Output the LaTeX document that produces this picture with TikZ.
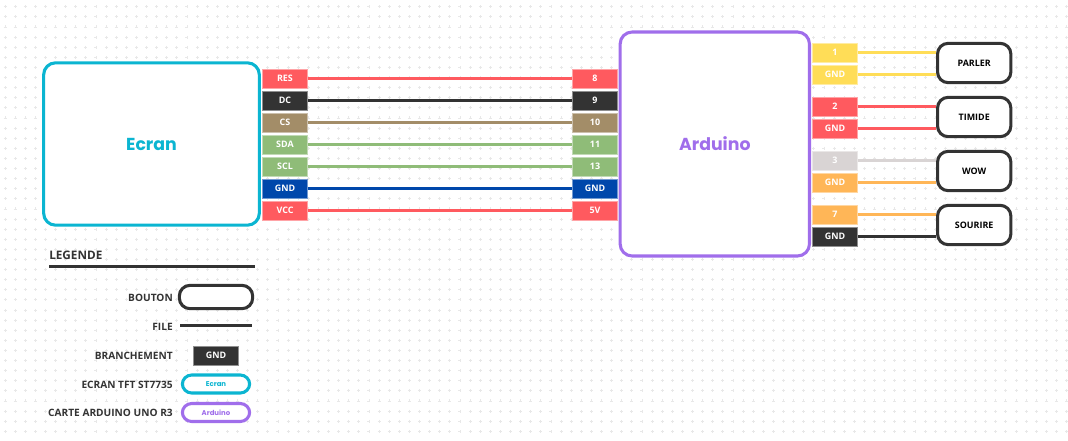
\documentclass[tikz,border=0pt]{standalone}
\usepackage{fontspec}
\setmainfont{Open Sans}
\newfontfamily\titlefont{Poppins}

\definecolor{cRed}{HTML}{FF5A5F}
\definecolor{cDark}{HTML}{333333}
\definecolor{cBrown}{HTML}{A38D68}
\definecolor{cGreen}{HTML}{8FBC78}
\definecolor{cBlue}{HTML}{0047AB}
\definecolor{cYellow}{HTML}{FFDD57}
\definecolor{cGrey}{HTML}{D9D4D4}
\definecolor{cOrange}{HTML}{FFB657}
\definecolor{cTeal}{HTML}{0BB5D1}
\definecolor{cPurple}{HTML}{A06EEB}

\tikzset{
    pinbox/.style = {fill=#1, draw=#1!55!white, line width=0.4pt, minimum width=34pt, minimum height=14pt,
                     inner sep=0pt, text=white, font=\bfseries\fontsize{6.7}{7}\selectfont},
    wire/.style = {draw=#1, line width=2pt},
    board/.style = {draw=#1, fill=white, line width=2.3pt, rounded corners=9pt, inner sep=0pt,
                    text=#1, font=\titlefont\bfseries\fontsize{13}{15}\selectfont},
    button/.style = {draw=cDark, fill=white, line width=2.3pt, rounded corners=8pt, inner sep=0pt,
                     minimum width=55pt, minimum height=29.5pt, text=black, font=\bfseries\fontsize{6.7}{7}\selectfont},
    pill/.style = {draw=#1, fill=white, line width=2.3pt, rounded corners=7pt, inner sep=0pt,
                   minimum width=50.5pt, minimum height=13.5pt, text=#1, font=\titlefont\bfseries\fontsize{5.2}{6}\selectfont},
    legendtext/.style = {anchor=east, inner sep=0pt, text=cDark, font=\bfseries\fontsize{7.6}{8}\selectfont}
}

\begin{document}
\begin{tikzpicture}[x=0.75pt, y=-0.75pt]
    \useasboundingbox (0,0) rectangle (1068,440);

    % dotted sheet
    \foreach \i in {0,...,105}
        \foreach \j in {0,...,42}
            \draw [black!9, line width=0.6pt] (3.5+10.11*\i,6.7+10.11*\j) -- +(3,0) (5+10.11*\i,5.2+10.11*\j) -- +(0,3);

    % boards
    \node [board=cTeal, minimum width=161.8pt, minimum height=121.8pt] (ecran) at (151.5,144) {Ecran};
    \node [board=cPurple, minimum width=142pt, minimum height=168pt] (arduino) at (714.8,144) {Arduino};

    % pins of the screen and of the board
    \foreach \nameA/\nameB/\y/\col/\txtA/\txtB in {res/p8/78.5/cRed/RES/8, dc/p9/100.5/cDark/DC/9, cs/p10/122.5/cBrown/CS/10,
                                                   sda/p11/144.5/cGreen/SDA/11, scl/p13/166.5/cGreen/SCL/13,
                                                   gnd/pgnd/188.5/cBlue/GND/GND, vcc/pv/210.5/cRed/VCC/5V}
    {
        \node [pinbox=\col] (\nameA) at (285,\y) {\txtA};
        \node [pinbox=\col] (\nameB) at (595,\y) {\txtB};
        \draw [wire=\col] (\nameA.east) -- (\nameB.west);
    }

    % buttons
    \node [button] (parler) at (974.2,63) {PARLER};
    \node [button] (timide) at (974.2,117) {TIMIDE};
    \node [button] (wow) at (974.2,171) {WOW};
    \node [button] (sourire) at (974.2,225) {SOURIRE};

    \foreach \name/\y/\col/\txt/\target in {a1/52.5/cYellow/1/parler, a1g/74.5/cYellow/GND/parler,
                                            a2/106.5/cRed/2/timide, a2g/128.5/cRed/GND/timide,
                                            a3/160.5/cGrey/3/wow, a3g/182.5/cOrange/GND/wow,
                                            a7/214.5/cOrange/7/sourire, a7g/236.5/cDark/GND/sourire}
    {
        \node [pinbox=\col] (\name) at (835,\y) {\txt};
        \draw [wire=\col] (\name.east) -- (\name.east -| \target.west);
    }

    % legend
    \node [anchor=west, inner sep=0pt, text=cDark, font=\bfseries\fontsize{8.8}{9}\selectfont] (legende) at (49,255) {LEGENDE};
    \coordinate (ruleA) at (49,266.5);
    \coordinate (ruleB) at (254.5,266.5);
    \draw [wire=cDark, line width=2.2pt] (ruleA) -- (ruleB);

    \node [legendtext] (lbouton) at (173,297.5) {BOUTON};
    \node [button, minimum height=17.5pt] (kbouton) at (216,297) {};

    \node [legendtext] (lfile) at (173,326.5) {FILE};
    \coordinate (fileA) at (180,325.5);
    \coordinate (fileB) at (252,325.5);
    \draw [wire=cDark, line width=2.2pt] (fileA) -- (fileB);

    \node [legendtext] (lbranche) at (173,355.5) {BRANCHEMENT};
    \node [pinbox=cDark] (kbranche) at (216,355.5) {GND};

    \node [legendtext] (lecran) at (173,384.5) {ECRAN TFT ST7735};
    \node [pill=cTeal] (kecran) at (216,384) {Ecran};

    \node [legendtext] (lcarte) at (173,412.5) {CARTE ARDUINO UNO R3};
    \node [pill=cPurple] (kcarte) at (216,412.5) {Arduino};
\end{tikzpicture}
\end{document}
